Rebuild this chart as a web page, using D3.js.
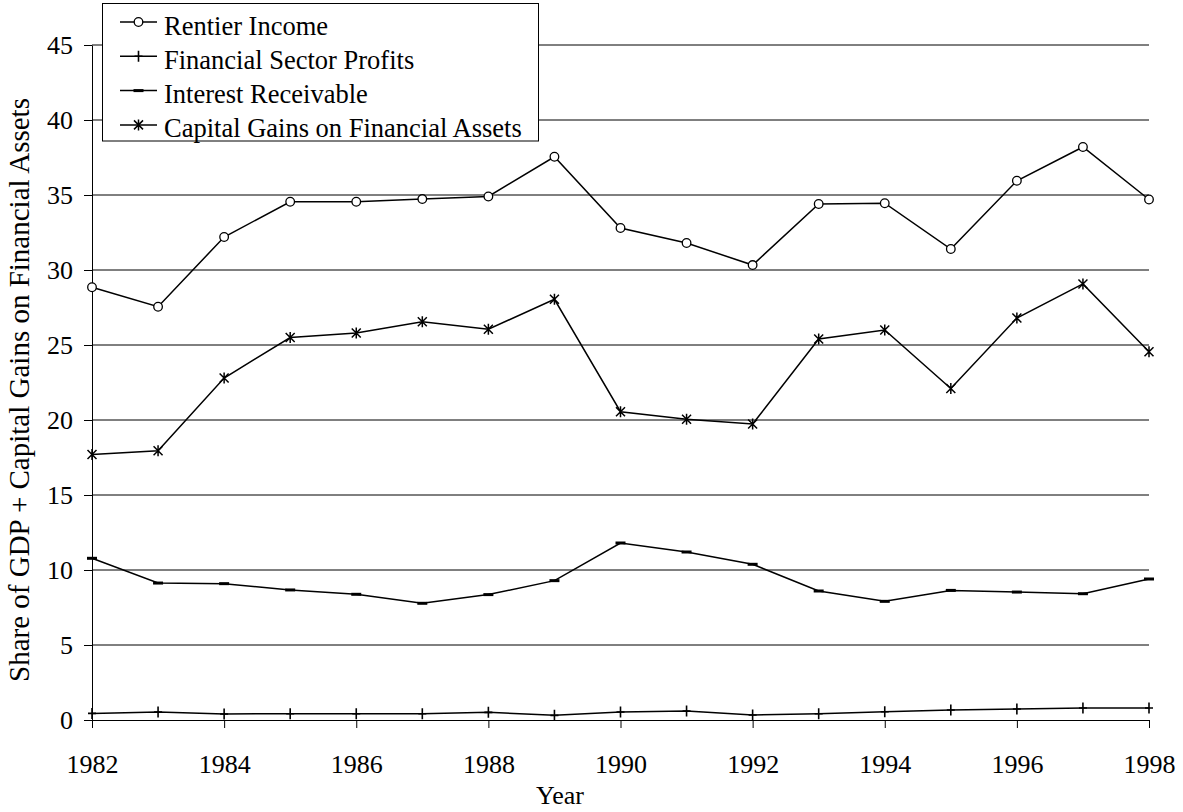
<!DOCTYPE html>
<html>
<head>
<meta charset="utf-8">
<script src="https://cdn.jsdelivr.net/npm/d3@7"></script>
<style>
    body { margin: 0; background: #fff; }
    text { font-family: "Liberation Serif", "Times New Roman", serif; fill: #000; }
</style>
</head>
<body>
<script>
// values
var years = [1982, 1983, 1984, 1985, 1986, 1987, 1988, 1989, 1990, 1991, 1992, 1993, 1994, 1995, 1996, 1997, 1998];
var rentierIncome = [28.85, 27.55, 32.2, 34.55, 34.55, 34.73, 34.9, 37.55, 32.8, 31.8, 30.33, 34.4, 34.45, 31.4, 35.95, 38.2, 34.7];
var financialProfits = [0.44, 0.53, 0.40, 0.42, 0.42, 0.42, 0.51, 0.31, 0.53, 0.60, 0.33, 0.42, 0.55, 0.67, 0.73, 0.80, 0.80];
var interestReceivable = [10.78, 9.13, 9.09, 8.67, 8.38, 7.78, 8.36, 9.29, 11.8, 11.2, 10.38, 8.6, 7.91, 8.64, 8.53, 8.42, 9.4];
var capitalGains = [17.7, 17.95, 22.8, 25.5, 25.8, 26.55, 26.05, 28.05, 20.55, 20.05, 19.73, 25.4, 26.0, 22.1, 26.8, 29.07, 24.55];

var yTicks = [0, 5, 10, 15, 20, 25, 30, 35, 40, 45];
var xTicks = [1982, 1984, 1986, 1988, 1990, 1992, 1994, 1996, 1998];
var seriesNames = ["Rentier Income", "Financial Sector Profits", "Interest Receivable", "Capital Gains on Financial Assets"];
var seriesMarkers = ["circle", "plus", "dash", "star"];

var width = 1183, height = 812;
var plotLeft = 92, plotRight = 1149, plotTop = 45, plotBottom = 720;

var x = d3.scaleLinear()
        .domain([1982, 1998])
        .range([plotLeft, plotRight]);

var y = d3.scaleLinear()
        .domain([0, 45])
        .range([plotBottom, plotTop]);

var svg = d3.select("body").append("svg")
        .attr("width", width)
        .attr("height", height);

// gridlines
svg.append("g")
        .attr("class", "grid")
    .selectAll("line")
    .data(yTicks.slice(1))
    .enter().append("line")
        .attr("x1", plotLeft)
        .attr("x2", plotRight)
        .attr("y1", function(d) { return y(d); })
        .attr("y2", function(d) { return y(d); })
        .attr("stroke", "#000")
        .attr("stroke-width", 1);

var yAxis = d3.axisLeft(y)
        .tickValues(yTicks)
        .tickSize(8)
        .tickSizeOuter(0)
        .tickPadding(11);

var xAxis = d3.axisBottom(x)
        .tickValues(xTicks)
        .tickFormat(d3.format("d"))
        .tickSize(8)
        .tickSizeOuter(0);

var gy = svg.append("g")
        .attr("transform", "translate(" + plotLeft + ",0)")
        .call(yAxis);

var gx = svg.append("g")
        .attr("transform", "translate(0," + plotBottom + ")")
        .call(xAxis);

[gx, gy].forEach(function(g) {
    g.select(".domain").attr("stroke", "#000").attr("stroke-width", 1);
    g.selectAll(".tick line").attr("stroke", "#000").attr("stroke-width", 1);
    g.selectAll(".tick text")
            .attr("font-family", "Liberation Serif")
            .attr("font-size", 26)
            .attr("fill", "#000");
});
gx.selectAll(".tick text").attr("y", 53).attr("dy", 0);

// axis titles
svg.append("text")
        .attr("x", 560)
        .attr("y", 804)
        .attr("text-anchor", "middle")
        .attr("font-size", 26)
        .text("Year");

svg.append("text")
        .attr("transform", "translate(29,390) rotate(-90)")
        .attr("text-anchor", "middle")
        .attr("font-size", 29)
        .text("Share of GDP + Capital Gains on Financial Assets");

function drawMarker(g, type) {
    if (type == "circle") {
        g.append("circle").attr("r", 4.3)
                .attr("fill", "#fff").attr("stroke", "#000").attr("stroke-width", 1.3);
    } else if (type == "plus") {
        g.append("path").attr("d", "M-4,0H4M0,-5.5V5.5")
                .attr("stroke", "#000").attr("stroke-width", 1.6);
    } else if (type == "dash") {
        g.append("path").attr("d", "M-5,0H5")
                .attr("stroke", "#000").attr("stroke-width", 3);
    } else {
        g.append("path").attr("d", "M-4.5,-4.5L4.5,4.5M-4.5,4.5L4.5,-4.5M0,-5.5V5.5")
                .attr("stroke", "#000").attr("stroke-width", 1.5);
    }
}

var allSeries = [rentierIncome, financialProfits, interestReceivable, capitalGains];

var line = d3.line()
        .x(function(d, i) { return x(years[i]); })
        .y(function(d) { return y(d); });

allSeries.forEach(function(vals, k) {
    var g = svg.append("g").attr("class", "series");
    g.append("path")
            .datum(vals)
            .attr("d", line)
            .attr("fill", "none")
            .attr("stroke", "#000")
            .attr("stroke-width", 1.5);
    g.selectAll("g.pt")
            .data(vals)
        .enter().append("g")
            .attr("class", "pt")
            .attr("transform", function(d, i) { return "translate(" + x(years[i]) + "," + y(d) + ")"; })
            .each(function() { drawMarker(d3.select(this), seriesMarkers[k]); });
});

// legend
var legend = svg.append("g").attr("class", "legend");
legend.append("rect")
        .attr("x", 102.5)
        .attr("y", 3.5)
        .attr("width", 436)
        .attr("height", 137.5)
        .attr("fill", "#fff")
        .attr("stroke", "#000")
        .attr("stroke-width", 1);

seriesNames.forEach(function(name, i) {
    var ry = 22 + i * 34.3;
    var row = legend.append("g").attr("transform", "translate(0," + ry + ")");
    row.append("line")
            .attr("x1", 120).attr("x2", 157)
            .attr("stroke", "#000").attr("stroke-width", 1.5);
    drawMarker(row.append("g").attr("transform", "translate(138.5,0)"), seriesMarkers[i]);
    row.append("text")
            .attr("x", 164)
            .attr("y", 12.5)
            .attr("font-size", 26.5)
            .text(name);
});
</script>
</body>
</html>
